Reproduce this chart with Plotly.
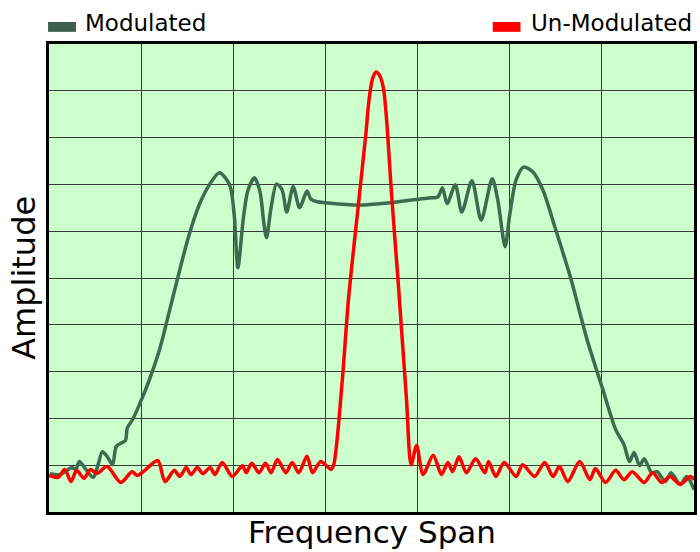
import plotly.graph_objects as go

# Modulated spectrum (frequency span units 0..7, amplitude units 0..10)
mod_x = [0.01, 0.12, 0.18, 0.25, 0.29, 0.33, 0.40, 0.48, 0.53, 0.58, 0.64, 0.69, 0.73, 0.79, 0.83,
         0.85, 0.90, 0.98, 1.09, 1.20, 1.31, 1.42, 1.52, 1.63, 1.74, 1.85, 1.96, 2.01, 2.05, 2.11,
         2.16, 2.23, 2.29, 2.33, 2.36, 2.41, 2.47, 2.53, 2.58, 2.65, 2.72, 2.80, 2.84, 2.91, 3.00,
         3.36, 3.79, 4.12, 4.22, 4.27, 4.32, 4.41, 4.48, 4.59, 4.69, 4.81, 4.87, 4.95, 5.00, 5.07,
         5.15, 5.25, 5.36, 5.49, 5.66, 5.84, 6.01, 6.15, 6.24, 6.30, 6.35, 6.41, 6.46, 6.54, 6.60,
         6.69, 6.75, 6.85, 6.92, 7.00]
mod_y = [0.82, 0.80, 0.87, 0.95, 0.91, 1.08, 0.91, 0.74, 0.99, 1.29, 1.16, 1.01, 1.40, 1.48, 1.53,
         1.80, 1.95, 2.29, 2.83, 3.47, 4.32, 5.18, 5.92, 6.56, 6.99, 7.25, 6.99, 6.35, 5.22, 6.29,
         6.88, 7.14, 6.84, 6.20, 5.86, 6.50, 7.01, 6.88, 6.41, 6.95, 6.50, 6.86, 6.69, 6.63, 6.61,
         6.56, 6.63, 6.71, 6.73, 6.93, 6.59, 6.99, 6.41, 7.08, 6.24, 7.12, 6.67, 5.67, 6.35, 7.10,
         7.37, 7.27, 6.88, 6.09, 5.01, 3.68, 2.62, 1.76, 1.44, 1.08, 1.27, 0.99, 1.14, 0.84, 0.86,
         0.65, 0.84, 0.59, 0.76, 0.48]

# Un-modulated carrier
unmod_x = [0.00, 0.10, 0.17, 0.24, 0.30, 0.38, 0.45, 0.52, 0.63, 0.78, 0.90, 0.96, 1.04, 1.18,
           1.26, 1.36, 1.42, 1.49, 1.54, 1.61, 1.67, 1.75, 1.80, 1.88, 1.99, 2.10, 2.14, 2.20,
           2.28, 2.35, 2.41, 2.48, 2.57, 2.64, 2.71, 2.80, 2.86, 2.95, 3.06, 3.09, 3.18, 3.25,
           3.36, 3.44, 3.47, 3.51, 3.55, 3.59, 3.63, 3.66, 3.72, 3.79, 3.88, 3.93, 3.99, 4.06,
           4.17, 4.26, 4.33, 4.38, 4.45, 4.53, 4.63, 4.73, 4.77, 4.85, 4.94, 5.07, 5.14, 5.27,
           5.38, 5.47, 5.54, 5.63, 5.76, 5.87, 5.93, 6.04, 6.15, 6.24, 6.33, 6.46, 6.55, 6.65,
           6.74, 6.85, 6.96, 7.00]
unmod_y = [0.78, 0.74, 0.91, 0.65, 0.89, 0.72, 0.91, 0.82, 0.97, 0.63, 0.86, 0.78, 0.89, 1.10,
           0.65, 0.89, 0.76, 0.95, 0.80, 0.95, 0.82, 0.95, 0.80, 1.06, 0.76, 0.99, 0.84, 1.04,
           0.84, 1.04, 0.84, 1.12, 0.84, 1.06, 0.84, 1.19, 0.84, 1.08, 0.91, 1.01, 2.74, 4.54,
           6.61, 8.10, 8.75, 9.25, 9.40, 9.32, 9.05, 8.48, 6.73, 4.90, 2.40, 1.01, 1.42, 0.80,
           1.21, 0.80, 1.06, 0.86, 1.18, 0.84, 1.14, 0.84, 1.08, 0.76, 1.06, 0.76, 1.01, 0.76,
           1.06, 0.76, 0.97, 0.65, 1.08, 0.69, 0.93, 0.63, 0.89, 0.69, 0.86, 0.63, 0.84, 0.63,
           0.76, 0.59, 0.76, 0.69]

GREEN = "#3d6b50"
RED = "#ff0000"
FONT = "DejaVu Sans"

fig = go.Figure()
fig.add_trace(go.Scatter(x=mod_x, y=mod_y, mode="lines", name="Modulated",
                         line=dict(color=GREEN, width=3.5, shape="spline", smoothing=0.8),
                         hoverinfo="skip"))
fig.add_trace(go.Scatter(x=unmod_x, y=unmod_y, mode="lines", name="Un-Modulated",
                         line=dict(color=RED, width=3.5, shape="spline", smoothing=0.8),
                         hoverinfo="skip"))

axis_common = dict(showticklabels=False, ticks="", showgrid=True, gridcolor="#3a3a3a",
                   gridwidth=1, zeroline=False, showline=True, linecolor="black",
                   linewidth=3, mirror=True, fixedrange=True)
fig.update_xaxes(range=[0, 7], dtick=1, tick0=0, **axis_common)
fig.update_yaxes(range=[0, 10], dtick=1, tick0=0, **axis_common)

fig.update_layout(
    width=700, height=552,
    margin=dict(l=49, r=3, t=44, b=40),
    paper_bgcolor="white",
    plot_bgcolor="#ccffcc",
    showlegend=False,
    font=dict(family=FONT, color="black"),
    shapes=[
        dict(type="rect", xref="paper", yref="paper", x0=-0.0015, x1=0.0418, y0=1.026, y1=1.047,
             fillcolor="#3d5f50", line=dict(width=0)),
        dict(type="rect", xref="paper", yref="paper", x0=0.688, x1=0.731, y0=1.026, y1=1.047,
             fillcolor=RED, line=dict(width=0)),
    ],
    annotations=[
        dict(text="Modulated", xref="paper", yref="paper", x=0.052, y=1.012, xanchor="left",
             yanchor="bottom", showarrow=False, font=dict(size=23, family=FONT)),
        dict(text="Un-Modulated", xref="paper", yref="paper", x=1.0, y=1.012, xanchor="right",
             yanchor="bottom", showarrow=False, font=dict(size=23, family=FONT)),
        dict(text="Frequency Span", xref="paper", yref="paper", x=0.5, y=-0.0855, xanchor="center",
             yanchor="bottom", showarrow=False, font=dict(size=31, family=FONT)),
        dict(text="Amplitude", xref="paper", yref="paper", x=-0.039, y=0.5, xanchor="center",
             yanchor="middle", textangle=-90, showarrow=False, font=dict(size=32, family=FONT)),
    ],
)

fig.write_html("out.html", config={"displayModeBar": False},
               post_script="document.body.style.margin='0';document.body.style.overflow='hidden';")
